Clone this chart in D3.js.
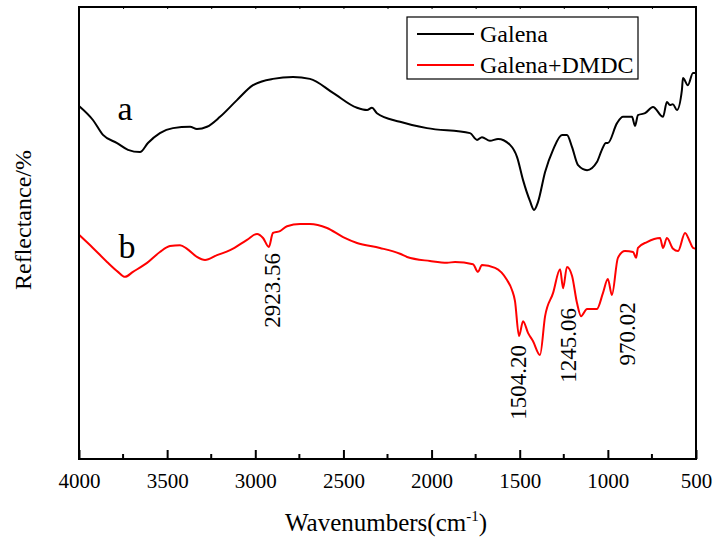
<!DOCTYPE html>
<html><head><meta charset="utf-8">
<script src="https://cdn.jsdelivr.net/npm/d3@7"></script>
<style>body{margin:0;background:#fff}svg{display:block}</style>
</head><body>
<svg id="c" width="714" height="539"></svg>
<script>
// Galena (a) spectrum: wavenumber, reflectance
const galenaWn = [4000,3921,3864,3784,3722,3654,3609,3541,3467,3370,3331,3274,3200,3104,3013,2900,2786,2690,2559,2423,2366,2338,2310,2179,2026,1782,1742,1714,1669,1623,1555,1515,1481,1442,1419,1396,1356,1311,1260,1232,1203,1169,1118,1062,1034,1011,1000,948,914,863,846,829,789,744,687,665,648,631,608,580,574,546,517,500];
const galenaR  = [78.1,75.0,71.7,69.9,68.4,67.9,69.9,72.1,73.2,73.5,73.0,73.5,75.7,79.4,82.7,84.1,84.5,84.1,81.0,77.7,77.2,77.7,76.5,74.6,73.2,72.1,70.6,71.2,70.4,70.8,69.5,66.8,61.7,57.1,55.1,56.9,63.5,68.4,71.7,71.7,69.0,65.0,63.9,65.7,68.4,69.9,69.9,74.3,75.7,75.7,73.7,76.1,76.5,77.9,75.7,79.0,78.3,78.5,77.2,81.6,84.3,82.7,85.4,85.4];
// Galena + DMDC (b) spectrum
const dmdcWn = [4000,3921,3841,3779,3739,3694,3614,3541,3484,3427,3387,3331,3285,3217,3143,3047,2990,2956,2923,2900,2860,2820,2746,2690,2593,2502,2423,2293,2179,2139,2009,1912,1867,1765,1737,1714,1640,1572,1544,1527,1504,1481,1453,1425,1385,1356,1311,1271,1254,1232,1203,1175,1152,1118,1062,1028,1000,977,943,903,857,840,829,778,704,687,665,630,602,562,534,517,500];
const dmdcR  = [49.6,46.7,43.6,41.4,40.3,41.4,43.4,45.8,47.1,47.3,46.5,44.7,44.0,45.1,46.2,48.5,49.8,48.9,46.9,50.0,50.4,51.5,52.0,52.0,51.1,49.1,47.8,46.7,45.4,44.7,43.8,43.4,43.6,43.1,41.4,42.9,42.3,39.6,37.4,35.0,27.2,30.5,27.9,26.1,23.0,31.6,36.7,42.0,37.8,42.5,40.5,34.5,31.6,33.2,33.2,36.7,39.8,36.3,44.5,46.0,45.8,44.5,46.7,48.0,48.9,46.7,48.9,46.5,46.0,50.0,48.0,46.7,46.5];
// peak annotations
const annText = ["2923.56","1504.20","1245.06","970.02"];
const annWn   = [2905,1510,1226,891];
const annR    = [45.6,25.2,33.4,34.7];
const xTicks = [4000,3500,3000,2500,2000,1500,1000,500];
const seriesNames = ["Galena","Galena+DMDC"];
const seriesColors = ["#000000","#ff0000"];

const FONT = "'Liberation Serif','Times New Roman','Nimbus Roman','DejaVu Serif',serif";
const svg = d3.select("#c");
const L=79,R=696,T=7,B=459;
const x = d3.scaleLinear().domain([4000,500]).range([L,R]);
const y = d3.scaleLinear().domain([0,100]).range([B,T]);

const line = d3.line().x(d=>x(d[0])).y(d=>y(d[1])).curve(d3.curveMonotoneX);
const sA = galenaWn.map((w,i)=>[w,galenaR[i]]);
const sB = dmdcWn.map((w,i)=>[w,dmdcR[i]]);
const g = svg.append("g");
g.append("path").datum(sA).attr("d",line).attr("fill","none").attr("stroke",seriesColors[0]).attr("stroke-width",2).attr("stroke-linejoin","round");
g.append("path").datum(sB).attr("d",line).attr("fill","none").attr("stroke",seriesColors[1]).attr("stroke-width",2).attr("stroke-linejoin","round");

// frame
svg.append("rect").attr("x",L).attr("y",T).attr("width",R-L).attr("height",B-T).attr("fill","none").attr("stroke","#000").attr("stroke-width",2);

// bottom axis (ticks inward)
const minor = d3.range(3750,500,-500);
const xb = svg.append("g").attr("transform",`translate(0,${B})`);
xb.call(d3.axisBottom(x).tickValues(xTicks).tickSizeInner(-9).tickSizeOuter(0).tickPadding(14).tickFormat(d3.format("d")));
xb.attr("font-family",null).attr("font-size",null);
xb.select(".domain").remove();
xb.selectAll(".tick line").attr("stroke-width",2);
xb.selectAll(".tick text").style("font-size","21px").style("font-family",FONT);
xb.selectAll(".minor").data(minor).enter().append("line").attr("x1",d=>x(d)).attr("x2",d=>x(d)).attr("y1",0).attr("y2",-5).attr("stroke","#000").attr("stroke-width",2);
// top small ticks
const xt = svg.append("g").attr("transform",`translate(0,${T})`);
xt.call(d3.axisTop(x).tickValues(d3.range(4000,499,-250)).tickSizeInner(-2).tickSizeOuter(0).tickFormat(""));
xt.select(".domain").remove();

function txt(sel){ return sel.style("font-family",FONT).attr("fill","#000"); }
// titles
txt(svg.append("text")).attr("x",386).attr("y",531).attr("text-anchor","middle").style("font-size","25px")
  .html('Wavenumbers(cm<tspan dy="-10" style="font-size:15px">-1</tspan><tspan dy="10">)</tspan>');
txt(svg.append("text")).attr("transform","translate(31,220) rotate(-90)").attr("text-anchor","middle").style("font-size","24px").text("Reflectance/%");

// series letters
txt(svg.append("text")).attr("x",125).attr("y",120).attr("text-anchor","middle").style("font-size","34px").text("a");
txt(svg.append("text")).attr("x",127).attr("y",258).attr("text-anchor","middle").style("font-size","34px").text("b");

// annotations
annText.forEach((t,i)=>{
  txt(svg.append("text")).attr("transform",`translate(${x(annWn[i])},${y(annR[i])}) rotate(-90)`)
    .attr("text-anchor","end").attr("dy","0.35em").style("font-size","23px").text(t);
});

// legend
const lg = svg.append("g");
lg.append("rect").attr("x",407).attr("y",17).attr("width",231).attr("height",62).attr("fill","#fff").attr("stroke","#000").attr("stroke-width",1.2);
seriesNames.forEach((n,i)=>{
  const yy = 34 + i*31;
  lg.append("line").attr("x1",417).attr("x2",474).attr("y1",yy).attr("y2",yy).attr("stroke",seriesColors[i]).attr("stroke-width",2);
  txt(lg.append("text")).attr("x",480).attr("y",yy+8).style("font-size","24px").text(n);
});
</script>
</body></html>
